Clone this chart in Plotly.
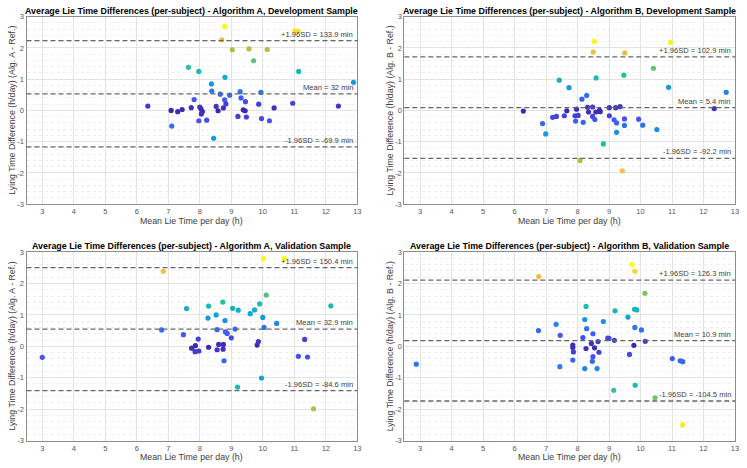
import plotly.graph_objects as go

# ---------------- data (hours) ----------------
devA_x = [6.35, 7.09, 7.11, 7.30, 7.44, 7.64, 7.73, 7.82, 7.97, 8.00, 8.04, 8.08, 8.05, 7.97, 8.22,
          8.37, 8.38, 8.44, 8.52, 8.58, 8.65, 8.70, 8.75, 8.79, 8.80, 8.79, 8.83, 8.95, 9.03, 9.21,
          9.28, 9.31, 9.38, 9.44, 9.45, 9.48, 9.56, 9.71, 9.87, 9.94, 9.96, 10.14, 10.21, 10.36,
          10.95, 11.02, 11.12, 11.14, 12.40, 12.88]
devA_y = [0.14, 0.00, -0.50, -0.04, 0.03, 1.38, 0.09, 0.35, 1.25, 0.11, 0.05, -0.04, -0.11, -0.33, -0.31,
          0.85, 0.62, -0.89, 0.13, -0.01, 0.52, 2.26, 0.08, 2.69, 1.06, 0.34, 0.21, 0.49, 1.94, -0.19,
          0.60, 0.40, 0.02, -0.01, 0.28, -0.21, 1.97, 1.59, 0.20, 0.58, -0.26, 1.95, -0.33, 0.08,
          0.23, 2.54, 2.54, 1.25, 0.14, 0.90]

devB_x = [6.28, 6.89, 6.99, 7.21, 7.33, 7.42, 7.58, 7.66, 7.73, 7.92, 7.94, 7.97, 8.02, 8.08, 8.14,
          8.18, 8.29, 8.32, 8.35, 8.48, 8.48, 8.50, 8.53, 8.55, 8.58, 8.59, 8.70, 8.72, 8.82, 9.01,
          9.01, 9.16, 9.21, 9.24, 9.24, 9.35, 9.42, 9.47, 9.49, 9.49, 9.50, 9.94, 10.07, 10.41,
          10.52, 10.89, 10.95, 12.34, 12.72]
devB_y = [-0.02, -0.42, -0.75, -0.22, -0.19, 0.97, -0.17, -0.01, 0.73, -0.17, -0.34, 0.04, -0.16, -1.60, 0.36,
          -0.38, 0.48, 0.10, -0.05, 0.11, -0.19, 1.87, 2.21, -0.29, -0.05, 1.04, 0.00, -0.04, -1.07, 0.09,
          -0.17, -0.30, 0.09, -0.40, -0.70, 0.12, -1.93, 1.13, -0.27, -0.48, 1.84, -0.28, -0.47, 1.35,
          -0.61, 0.74, 2.18, 0.06, 0.58]

valA_x = [3.00, 6.79, 6.84, 7.48, 7.58, 7.74, 7.86, 7.85, 7.95, 7.97, 8.26, 8.28, 8.28, 8.52, 8.55,
          8.55, 8.60, 8.73, 8.74, 8.75, 8.77, 8.80, 8.81, 8.87, 9.00, 9.04, 9.12, 9.20, 9.22, 9.60,
          9.74, 9.82, 9.86, 9.90, 9.96, 10.00, 10.02, 10.04, 10.11, 10.44, 10.69, 11.13, 11.33,
          11.42, 11.61, 12.16]
valA_y = [-0.35, 0.52, 2.39, 0.37, 1.20, -0.06, 0.02, -0.17, 0.23, -0.15, 0.90, 1.28, -0.03, 1.00, 0.53,
          -0.11, 0.06, 1.41, -0.09, 0.06, -0.46, 0.82, 0.46, 0.41, 0.27, 1.21, 0.55, -1.30, 1.15, 1.04,
          1.16, 0.04, 0.15, 1.35, -1.01, 0.92, 2.79, 0.60, 1.63, 0.73, 2.79, -0.32, 0.22,
          -0.34, -1.99, 1.29]

valB_x = [2.88, 6.76, 6.77, 7.32, 7.45, 7.44, 7.85, 7.85, 7.87, 7.85, 8.17, 8.23, 8.23, 8.27, 8.27,
          8.29, 8.44, 8.47, 8.49, 8.49, 8.54, 8.62, 8.65, 8.68, 8.82, 8.96, 9.00, 9.15, 9.17, 9.19,
          9.60, 9.65, 9.73, 9.79, 9.81, 9.82, 9.82, 9.83, 9.88, 10.03, 10.14, 10.15, 10.46, 11.01,
          11.26, 11.34, 11.34]
valB_y = [-0.57, 0.50, 2.22, 0.70, 0.35, -0.65, 0.04, -0.04, -0.18, -0.44, 0.28, 0.85, -0.71, 1.27, -0.07,
          0.56, 0.09, -0.48, 0.40, -0.33, -0.05, -0.71, 0.15, -0.19, 0.79, 0.26, 0.25, -1.40, 0.19, 1.13,
          0.93, -0.26, 2.60, 0.03, 1.18, 2.39, 0.60, -1.24, 1.16, 0.52, 1.69, 0.16, -1.64, -0.39,
          -0.46, -0.49, -2.50]

# Bland-Altman statistics (minutes)
mean_min = [32, 5.4, 32.9, 10.9]
upper_min = [133.9, 102.9, 150.4, 126.3]
lower_min = [-69.9, -92.2, -84.6, -104.5]

titles = [
    "Average Lie Time Differences (per-subject) - Algorithm A, Development Sample",
    "Average Lie Time Differences (per-subject) - Algorithm B, Development Sample",
    "Average Lie Time Differences (per-subject) - Algorithm A, Validation Sample",
    "Average Lie Time Differences (per-subject) - Algorithm B, Validation Sample",
]
ylabels = [
    "Lying Time Difference (h/day) (Alg. A - Ref.)",
    "Lying Time Difference (h/day) (Alg. B - Ref.)",
    "Lying Time Difference (h/day) (Alg. A - Ref.)",
    "Lying Time Difference (h/day) (Alg. B - Ref.)",
]
xlabel = "Mean Lie Time per day (h)"
xticks = [3, 4, 5, 6, 7, 8, 9, 10, 11, 12, 13]
yticks = [-3, -2, -1, 0, 1, 2, 3]

series_x = [devA_x, devB_x, valA_x, valB_x]
series_y = [devA_y, devB_y, valA_y, valB_y]

# ---------------- styling ----------------
W, H = 747, 468
FONT = "Liberation Sans, Arial, Helvetica, sans-serif"
PARULA = [
    [0.0, "#3e26a8"], [0.125, "#4752f4"], [0.25, "#2480f0"], [0.375, "#0ba8d9"],
    [0.5, "#21bfa4"], [0.625, "#6cc46c"], [0.75, "#c6bd3a"], [0.875, "#fcbd3c"],
    [1.0, "#f9fb14"],
]
# pixel boxes of plot areas: (left, right, top, bottom)
boxes = [
    (26.5, 357.3, 16.7, 204.2),
    (404.3, 735.0, 16.7, 204.2),
    (26.5, 357.3, 252.1, 440.5),
    (404.3, 735.0, 252.1, 440.5),
]
title_y = [11, 11, 246.3, 246.3]
xlab_y = [221, 221, 456.7, 456.7]
ylab_x = [12.3, 390.0, 12.3, 390.0]

fig = go.Figure()
annotations = []
shapes = []
layout_axes = {}

for i in range(4):
    sx = "" if i == 0 else str(i + 1)
    xa, ya = "x" + sx, "y" + sx
    l, r, t, b = boxes[i]
    absy = [abs(v) for v in series_y[i]]
    fig.add_trace(go.Scatter(
        x=series_x[i], y=series_y[i], mode="markers", xaxis=xa, yaxis=ya,
        marker=dict(size=5.2, color=absy, colorscale=PARULA, cmin=0, cmax=max(absy),
                    line=dict(width=0)),
        showlegend=False, hoverinfo="x+y",
    ))
    common = dict(showline=True, mirror=True, linecolor="#8c8c8c", linewidth=1,
                  showgrid=True, gridcolor="#e3e3e3", gridwidth=1, zeroline=False,
                  automargin=False, ticks="",
                  tickfont=dict(family=FONT, size=7.5, color="#555555"))
    layout_axes["xaxis" + sx] = dict(
        common, domain=[l / W, r / W], range=[2.5, 13], anchor=ya,
        tickmode="array", tickvals=xticks, ticktext=[str(v) for v in xticks],
    )
    layout_axes["yaxis" + sx] = dict(
        common, domain=[1 - b / H, 1 - t / H], range=[-3, 3], anchor=xa,
        tickmode="array", tickvals=yticks, ticktext=[str(v) for v in yticks],
        minor=dict(tickmode="linear", tick0=0, dtick=0.2, showgrid=True,
                   gridcolor="#eeeeee", griddash="dot", ticks=""),
    )
    # limit of agreement lines
    lines = [(upper_min[i], "+1.96SD = %g min" % upper_min[i]),
             (mean_min[i], "Mean = %g min" % mean_min[i]),
             (lower_min[i], "-1.96SD = %g min" % lower_min[i])]
    for val, label in lines:
        yv = val / 60.0
        shapes.append(dict(type="line", xref=xa + " domain", x0=0, x1=1, yref=ya, y0=yv, y1=yv,
                           line=dict(color="#666666", width=1.3, dash="5px,3px"), layer="above"))
        annotations.append(dict(xref=xa + " domain", x=0.993, xanchor="right", yref=ya, y=yv,
                                yanchor="bottom", yshift=0, text=label, showarrow=False,
                                font=dict(family=FONT, size=7.6, color="#404040")))
    # title / axis labels
    annotations.append(dict(xref="paper", yref="paper", x=(l + r) / 2 / W, y=1 - title_y[i] / H,
                            xanchor="center", yanchor="middle", text="<b>%s</b>" % titles[i],
                            showarrow=False, font=dict(family=FONT, size=8.9, color="#000000")))
    annotations.append(dict(xref="paper", yref="paper", x=(l + r) / 2 / W, y=1 - xlab_y[i] / H,
                            xanchor="center", yanchor="middle", text=xlabel,
                            showarrow=False, font=dict(family=FONT, size=8.8, color="#404040")))
    annotations.append(dict(xref="paper", yref="paper", x=ylab_x[i] / W, y=1 - (t + b) / 2 / H,
                            xanchor="center", yanchor="middle", text=ylabels[i], textangle=-90,
                            showarrow=False, font=dict(family=FONT, size=8.8, color="#404040")))

fig.update_layout(
    template="none",
    width=W, height=H, margin=dict(l=0, r=0, t=0, b=0),
    paper_bgcolor="white", plot_bgcolor="white",
    annotations=annotations, shapes=shapes, **layout_axes,
)
fig.write_html("out.html", config={"displayModeBar": False},
               post_script="document.body.style.margin='0';document.body.style.padding='0';")
